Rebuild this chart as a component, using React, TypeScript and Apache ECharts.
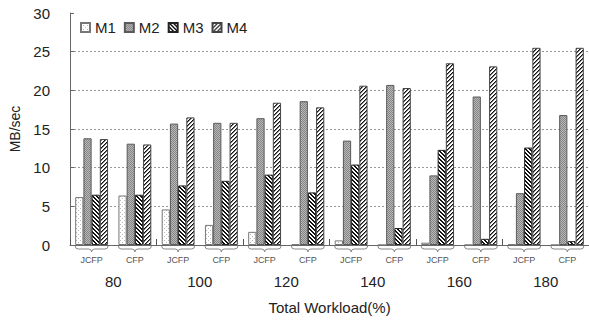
import React, { useEffect, useRef } from 'react';
import * as echarts from 'echarts';

// Two methods per workload level
const categories = ['JCFP', 'CFP', 'JCFP', 'CFP', 'JCFP', 'CFP', 'JCFP', 'CFP', 'JCFP', 'CFP', 'JCFP', 'CFP'];
const workloads = ['80', '100', '120', '140', '160', '180'];

// Throughput (MB/sec) for each series, one value per category above
const m1 = [6.2, 6.4, 4.6, 2.6, 1.7, 0.1, 0.6, 0, 0.3, 0, 0.1, 0];
const m2 = [13.8, 13.1, 15.7, 15.8, 16.4, 18.6, 13.5, 20.7, 9.0, 19.2, 6.7, 16.8];
const m3 = [6.5, 6.5, 7.7, 8.3, 9.1, 6.8, 10.4, 2.2, 12.3, 0.8, 12.6, 0.5];
const m4 = [13.7, 13.0, 16.5, 15.8, 18.4, 17.8, 20.6, 20.3, 23.5, 23.1, 25.5, 25.5];

const seriesNames = ['M1', 'M2', 'M3', 'M4'];
const seriesValues = [m1, m2, m3, m4];

const FONT = '"Liberation Sans", Arial, sans-serif';

// Small bitmap tiles used as fill patterns for the bars
function tile(size: number, paint: (x: number, y: number) => string) {
  const c = document.createElement('canvas');
  c.width = size;
  c.height = size;
  const ctx = c.getContext('2d')!;
  for (let y = 0; y < size; y++) {
    for (let x = 0; x < size; x++) {
      ctx.fillStyle = paint(x, y);
      ctx.fillRect(x, y, 1, 1);
    }
  }
  return { image: c, repeat: 'repeat', imageWidth: size, imageHeight: size } as any;
}

export default function App() {
  const ref = useRef<HTMLDivElement>(null);

  useEffect(() => {
    const chart = echarts.init(ref.current!, null, { renderer: 'svg' });

    const patterns = [
      // sparse dots
      tile(4, (x, y) => ((x === 0 && y === 0) || (x === 2 && y === 2) ? '#b8b8b8' : '#ffffff')),
      // fine grey checker
      tile(2, (x, y) => ((x + y) % 2 === 0 ? '#858585' : '#b8b8b8')),
      // backslash hatching
      tile(4, (x, y) => (((x - y + 8) % 4) < 2 ? '#111111' : '#ffffff')),
      // forward slash hatching
      tile(4, (x, y) => {
        const k = (x + y) % 4;
        return k === 0 ? '#111111' : k === 1 ? '#777777' : '#ffffff';
      }),
    ];
    const borders = ['#777777', '#5a5a5a', '#222222', '#444444'];

    const barSeries = seriesNames.map((name, i) => ({
      name,
      type: 'bar',
      xAxisIndex: 0,
      yAxisIndex: 0,
      data: seriesValues[i],
      barGap: '0%',
      barCategoryGap: '24%',
      itemStyle: { color: patterns[i], borderColor: borders[i], borderWidth: 1 },
    }));

    // Curly braces under each group of bars
    const braceSeries = {
      type: 'custom',
      xAxisIndex: 0,
      yAxisIndex: 0,
      silent: true,
      clip: false,
      data: categories.map((_, i) => [i]),
      encode: { x: 0 },
      renderItem: (params: any, api: any) => {
        const idx = api.value(0);
        const p = api.coord([idx, 0]);
        const band = api.size([1, 0])[0];
        const half = (band * 0.76) / 2;
        const xl = p[0] - half;
        const xr = p[0] + half;
        const xc = p[0];
        const y0 = p[1] + 1;
        const d =
          `M${xl},${y0} Q${xl},${y0 + 3} ${xl + 3},${y0 + 3} L${xc - 3},${y0 + 3} ` +
          `Q${xc},${y0 + 3} ${xc},${y0 + 6} Q${xc},${y0 + 3} ${xc + 3},${y0 + 3} ` +
          `L${xr - 3},${y0 + 3} Q${xr},${y0 + 3} ${xr},${y0}`;
        return {
          type: 'path',
          shape: { pathData: d },
          style: { fill: 'none', stroke: '#888888', lineWidth: 1 },
        };
      },
    };

    chart.setOption({
      animation: false,
      backgroundColor: '#ffffff',
      textStyle: { fontFamily: FONT },
      legend: {
        data: seriesNames,
        left: 75,
        top: 15,
        itemWidth: 9,
        itemHeight: 9,
        itemGap: 8,
        icon: 'rect',
        textStyle: { fontSize: 15, color: '#222', fontFamily: FONT },
      },
      grid: { left: 70, top: 13, width: 521, height: 240 },
      xAxis: [
        {
          type: 'category',
          data: categories,
          axisLine: { lineStyle: { color: '#666', width: 1 } },
          axisTick: { show: false },
          axisLabel: { interval: 0, fontSize: 9, color: '#555', margin: 10, fontFamily: FONT },
          name: 'Total Workload(%)',
          nameLocation: 'middle',
          nameGap: 55,
          nameTextStyle: { fontSize: 15, color: '#222', fontFamily: FONT },
        },
        {
          type: 'category',
          data: workloads,
          position: 'bottom',
          axisLine: { show: false },
          axisTick: { show: true, inside: true, length: 6, lineStyle: { color: '#555' } },
          axisLabel: { interval: 0, fontSize: 15, color: '#222', margin: 29, fontFamily: FONT },
          splitLine: { show: false },
        },
      ],
      yAxis: {
        type: 'value',
        min: 0,
        max: 30,
        interval: 5,
        axisLine: { show: true, lineStyle: { color: '#666' } },
        axisTick: { show: true, inside: true, length: 4, lineStyle: { color: '#666' } },
        axisLabel: { fontSize: 15, color: '#222', margin: 20, fontFamily: FONT },
        splitLine: {
          show: true,
          lineStyle: {
            color: ['transparent', '#999', '#999', '#999', '#999', '#999', 'transparent'],
            type: [2, 2],
            width: 1,
          },
        },
        name: 'MB/sec',
        nameLocation: 'middle',
        nameGap: 48,
        nameTextStyle: { fontSize: 14, color: '#222', fontFamily: FONT },
      },
      series: [...barSeries, braceSeries],
    });

    return () => chart.dispose();
  }, []);

  return (
    <div
      ref={ref}
      style={{ position: 'fixed', left: 0, top: 0, width: 589, height: 320, background: '#fff' }}
    />
  );
}
